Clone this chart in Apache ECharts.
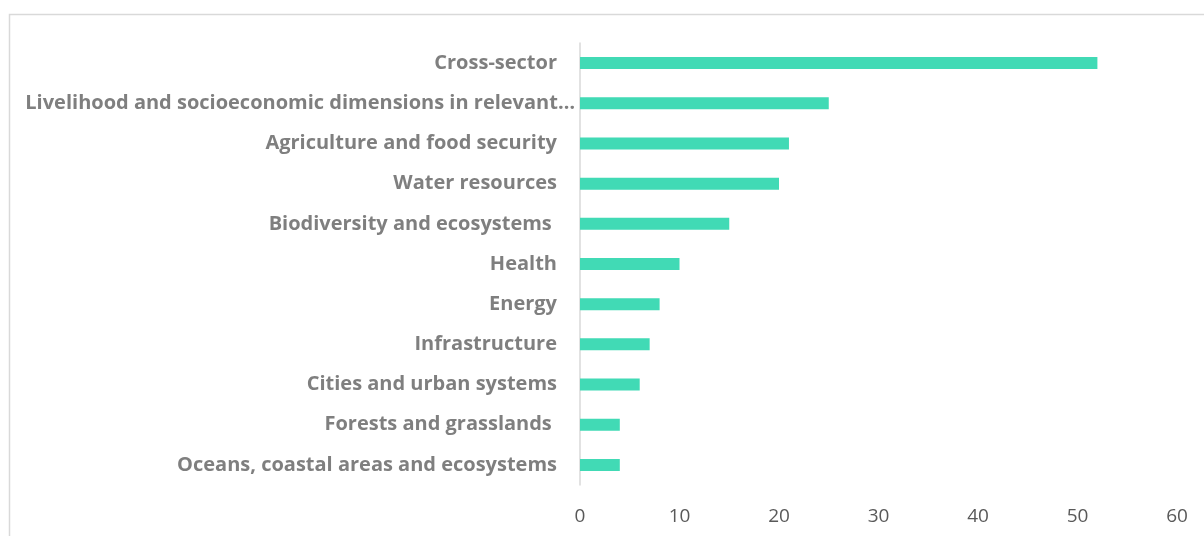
<!DOCTYPE html>
<html>
<head>
<meta charset="utf-8">
<script src="https://cdn.jsdelivr.net/npm/echarts@6/dist/echarts.min.js"></script>
<style>
html,body{margin:0;padding:0;background:#fff;}
#chart{width:1204px;height:536px;}
</style>
</head>
<body>
<div id="chart"></div>
<script>
const categories = [
  "Cross-sector",
  "Livelihood and socioeconomic dimensions in relevant…",
  "Agriculture and food security",
  "Water resources",
  "Biodiversity and ecosystems ",
  "Health",
  "Energy",
  "Infrastructure",
  "Cities and urban systems",
  "Forests and grasslands ",
  "Oceans, coastal areas and ecosystems"
];
const values = [52, 25, 21, 20, 15, 10, 8, 7, 6, 4, 4];
const xTicks = [0, 10, 20, 30, 40, 50, 60];

const labelFont = {color: '#7f7f7f', fontSize: 20, fontWeight: 'bold', fontFamily: 'Open Sans'};

const chart = echarts.init(document.getElementById('chart'));
chart.setOption({
  animation: false,
  graphic: [{
    type: 'rect',
    shape: {x: 9.5, y: 14.5, width: 1300, height: 600},
    style: {fill: 'none', stroke: '#d9d9d9', lineWidth: 1.5},
    silent: true
  }],
  grid: {left: 580, right: 27, top: 43, bottom: 51, containLabel: false},
  xAxis: {
    type: 'value',
    min: xTicks[0], max: xTicks[xTicks.length - 1], interval: 10,
    axisLine: {show: false},
    axisTick: {show: false},
    splitLine: {show: false},
    axisLabel: {color: '#595959', fontSize: 19, fontFamily: 'Open Sans', margin: 22}
  },
  yAxis: {
    type: 'category',
    inverse: true,
    data: categories,
    axisLine: {show: true, lineStyle: {color: '#d9d9d9', width: 1.5}},
    axisTick: {show: false},
    axisLabel: Object.assign({}, labelFont, {
      margin: 5,
      formatter: function (v) {
        if (v.endsWith('…')) {
          return '{a|' + v + '}';
        }
        return '{a|' + v + '}{s|}';
      },
      rich: {
        a: Object.assign({}, labelFont),
        s: Object.assign({}, labelFont, {width: 18})
      }
    })
  },
  series: [{
    type: 'bar',
    data: values,
    barWidth: 12,
    itemStyle: {color: '#41dab5'}
  }]
});
</script>
</body>
</html>
